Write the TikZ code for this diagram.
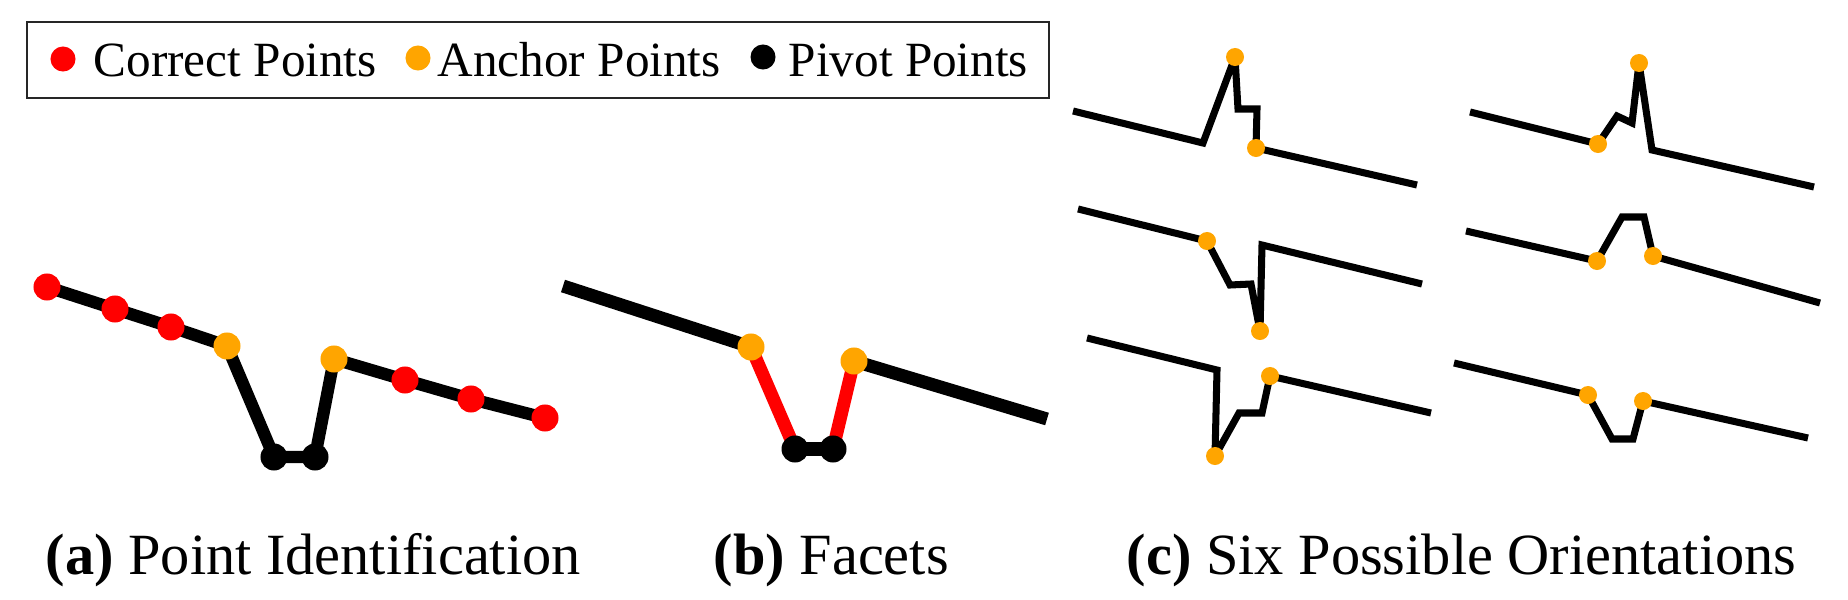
\documentclass[tikz,border=0pt]{standalone}
\usepackage{fontspec}
\setmainfont{Liberation Serif}
\usetikzlibrary{backgrounds}
\definecolor{anchorc}{RGB}{255,165,0}

\begin{document}
\begin{tikzpicture}[x=0.01cm,y=-0.01cm,
    pt/.style={circle,inner sep=0pt,minimum size=0.27cm,fill=#1},
    spt/.style={circle,inner sep=0pt,minimum size=0.18cm,fill=anchorc},
    facet/.style={line width=3.7pt},
    orient/.style={line width=2pt,miter limit=3},
    legtxt/.style={anchor=base west,inner sep=0pt,font=\fontsize{14}{16}\selectfont},
    captxt/.style={anchor=base west,inner sep=0pt,font=\fontsize{16.6}{19}\selectfont}]
\useasboundingbox (0,0) rectangle (1848,600);

% legend
\draw[line width=0.8pt,black!85] (27,22) rectangle (1049,98);
\node[pt=red,minimum size=0.25cm] (lgred) at (63,59) {};
\node[legtxt] (lgredt) at (93,77) {Correct Points};
\node[pt=anchorc,minimum size=0.25cm] (lgorg) at (418,58) {};
\node[legtxt] (lgorgt) at (437,77) {Anchor Points};
\node[pt=black,minimum size=0.25cm] (lgblk) at (763,57) {};
\node[legtxt] (lgblkt) at (788,77) {Pivot Points};

% (a) point identification
\node[pt=red] (ca1) at (47,287) {};
\node[pt=red] (ca2) at (115,309) {};
\node[pt=red] (ca3) at (171,327) {};
\node[pt=anchorc] (aa1) at (227,346) {};
\node[pt=black] (pa1) at (274,457) {};
\node[pt=black] (pa2) at (315,457) {};
\node[pt=anchorc] (aa2) at (334,359) {};
\node[pt=red] (ca4) at (405,380) {};
\node[pt=red] (ca5) at (471,399) {};
\node[pt=red] (ca6) at (545,418) {};
\begin{scope}[on background layer]
  \draw[line width=3.5pt] (ca1.center)--(ca2.center)--(ca3.center)--(aa1.center)
    --(pa1.center)--(pa2.center)--(aa2.center)--(ca4.center)--(ca5.center)--(ca6.center);
\end{scope}
\node[captxt] (capa) at (45,574) {\textbf{(a)} Point Identification};

% (b) facets
\coordinate (fb1) at (563,286);
\node[pt=anchorc] (ab1) at (751,347) {};
\node[pt=black] (pb1) at (795,449) {};
\node[pt=black] (pb2) at (833,449) {};
\node[pt=anchorc] (ab2) at (854,361) {};
\coordinate (fb2) at (1047,419);
\begin{scope}[on background layer]
  \draw[facet] (fb1)--(ab1.center);
  \draw[facet,red] (ab1.center)--(pb1.center);
  \draw[facet] (pb1.center)--(pb2.center);
  \draw[facet,red] (pb2.center)--(ab2.center);
  \draw[facet] (ab2.center)--(fb2);
\end{scope}
\node[captxt] (capb) at (713,574) {\textbf{(b)} Facets};

% (c) six possible orientations
\draw[orient] (1073,111)--(1203,143)--(1235,57)--(1238,109)--(1257,109)--(1256,148)--(1417,185);
\node[spt] at (1235,57) {};
\node[spt] at (1256,148) {};

\draw[orient] (1470,112)--(1598,144)--(1617,116)--(1632,123)--(1639,63)--(1652,150)--(1814,187);
\node[spt] at (1598,144) {};
\node[spt] at (1639,63) {};

\draw[orient] (1078,209)--(1207,241)--(1230,285)--(1251,284)--(1260,331)--(1262,245)--(1422,284);
\node[spt] at (1207,241) {};
\node[spt] at (1260,331) {};

\draw[orient] (1466,231)--(1597,261)--(1622,217)--(1644,217)--(1653,256)--(1820,303);
\node[spt] at (1597,261) {};
\node[spt] at (1653,256) {};

\draw[orient] (1087,338)--(1217,370)--(1215,456)--(1239,413)--(1262,413)--(1270,376)--(1431,413);
\node[spt] at (1215,456) {};
\node[spt] at (1270,376) {};

\draw[orient] (1454,363)--(1588,395)--(1612,439)--(1633,439)--(1643,401)--(1808,438);
\node[spt] at (1588,395) {};
\node[spt] at (1643,401) {};
\node[captxt] (capc) at (1126,574) {\textbf{(c)} Six Possible Orientations};
\end{tikzpicture}
\end{document}
